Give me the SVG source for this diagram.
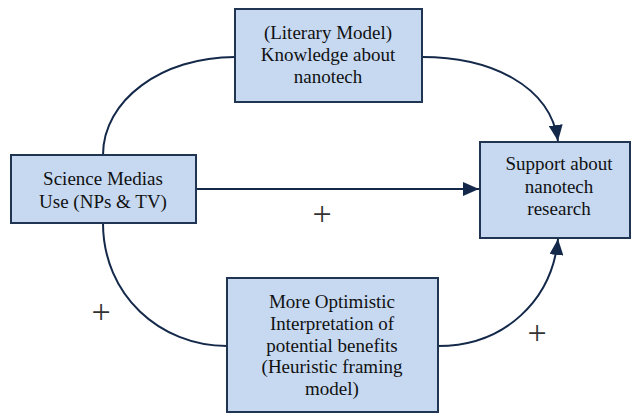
<svg xmlns="http://www.w3.org/2000/svg" width="632" height="414" viewBox="0 0 632 414">
<defs>
<marker id="arr" viewBox="0 0 16 14" refX="16" refY="7" markerWidth="16" markerHeight="14" markerUnits="userSpaceOnUse" orient="auto">
<path d="M0,0 L16,7 L0,14 z" fill="#14294a"/>
</marker>
<style>
.box{fill:#c6d9f1;stroke:#1f3552;stroke-width:2}
.c{fill:none;stroke:#14294a;stroke-width:2}
</style>
</defs>
<rect width="632" height="414" fill="#fff"/>
<g id="connectors">
<path class="c" d="M103,155 C103,100 162,57 235,57"/>
<path class="c" d="M422,57 C490,57 550,85 558,141" marker-end="url(#arr)"/>
<path class="c" d="M196,189 L479,189" marker-end="url(#arr)"/>
<path class="c" d="M103,223 C103,295 160,346 227,346"/>
<path class="c" d="M438,346 C505,346 552,300 558,239" marker-end="url(#arr)"/>
</g>
<g font-family="Liberation Serif, serif" font-size="19" fill="#111" text-anchor="middle">
<g id="literary">
<rect class="box" x="235" y="9" width="187" height="93"/>
<text x="328" y="39">(Literary Model)</text>
<text x="328" y="61">Knowledge about</text>
<text x="328" y="83">nanotech</text>
</g>
<g id="media">
<rect class="box" x="11" y="155" width="185" height="68"/>
<text x="103" y="185">Science Medias</text>
<text x="103" y="208">Use (NPs &amp; TV)</text>
</g>
<g id="support">
<rect class="box" x="480" y="142" width="150" height="96"/>
<text x="559" y="170">Support about</text>
<text x="559" y="193">nanotech</text>
<text x="559" y="215">research</text>
</g>
<g id="heuristic">
<rect class="box" x="227" y="278" width="211" height="134"/>
<text x="332" y="308">More Optimistic</text>
<text x="332" y="330">Interpretation of</text>
<text x="332" y="352">potential benefits</text>
<text x="332" y="373">(Heuristic framing</text>
<text x="332" y="395">model)</text>
</g>
<g id="signs" font-size="34" fill="#333">
<text x="322" y="225">+</text>
<text x="101" y="323">+</text>
<text x="537" y="344">+</text>
</g>
</g>
</svg>
